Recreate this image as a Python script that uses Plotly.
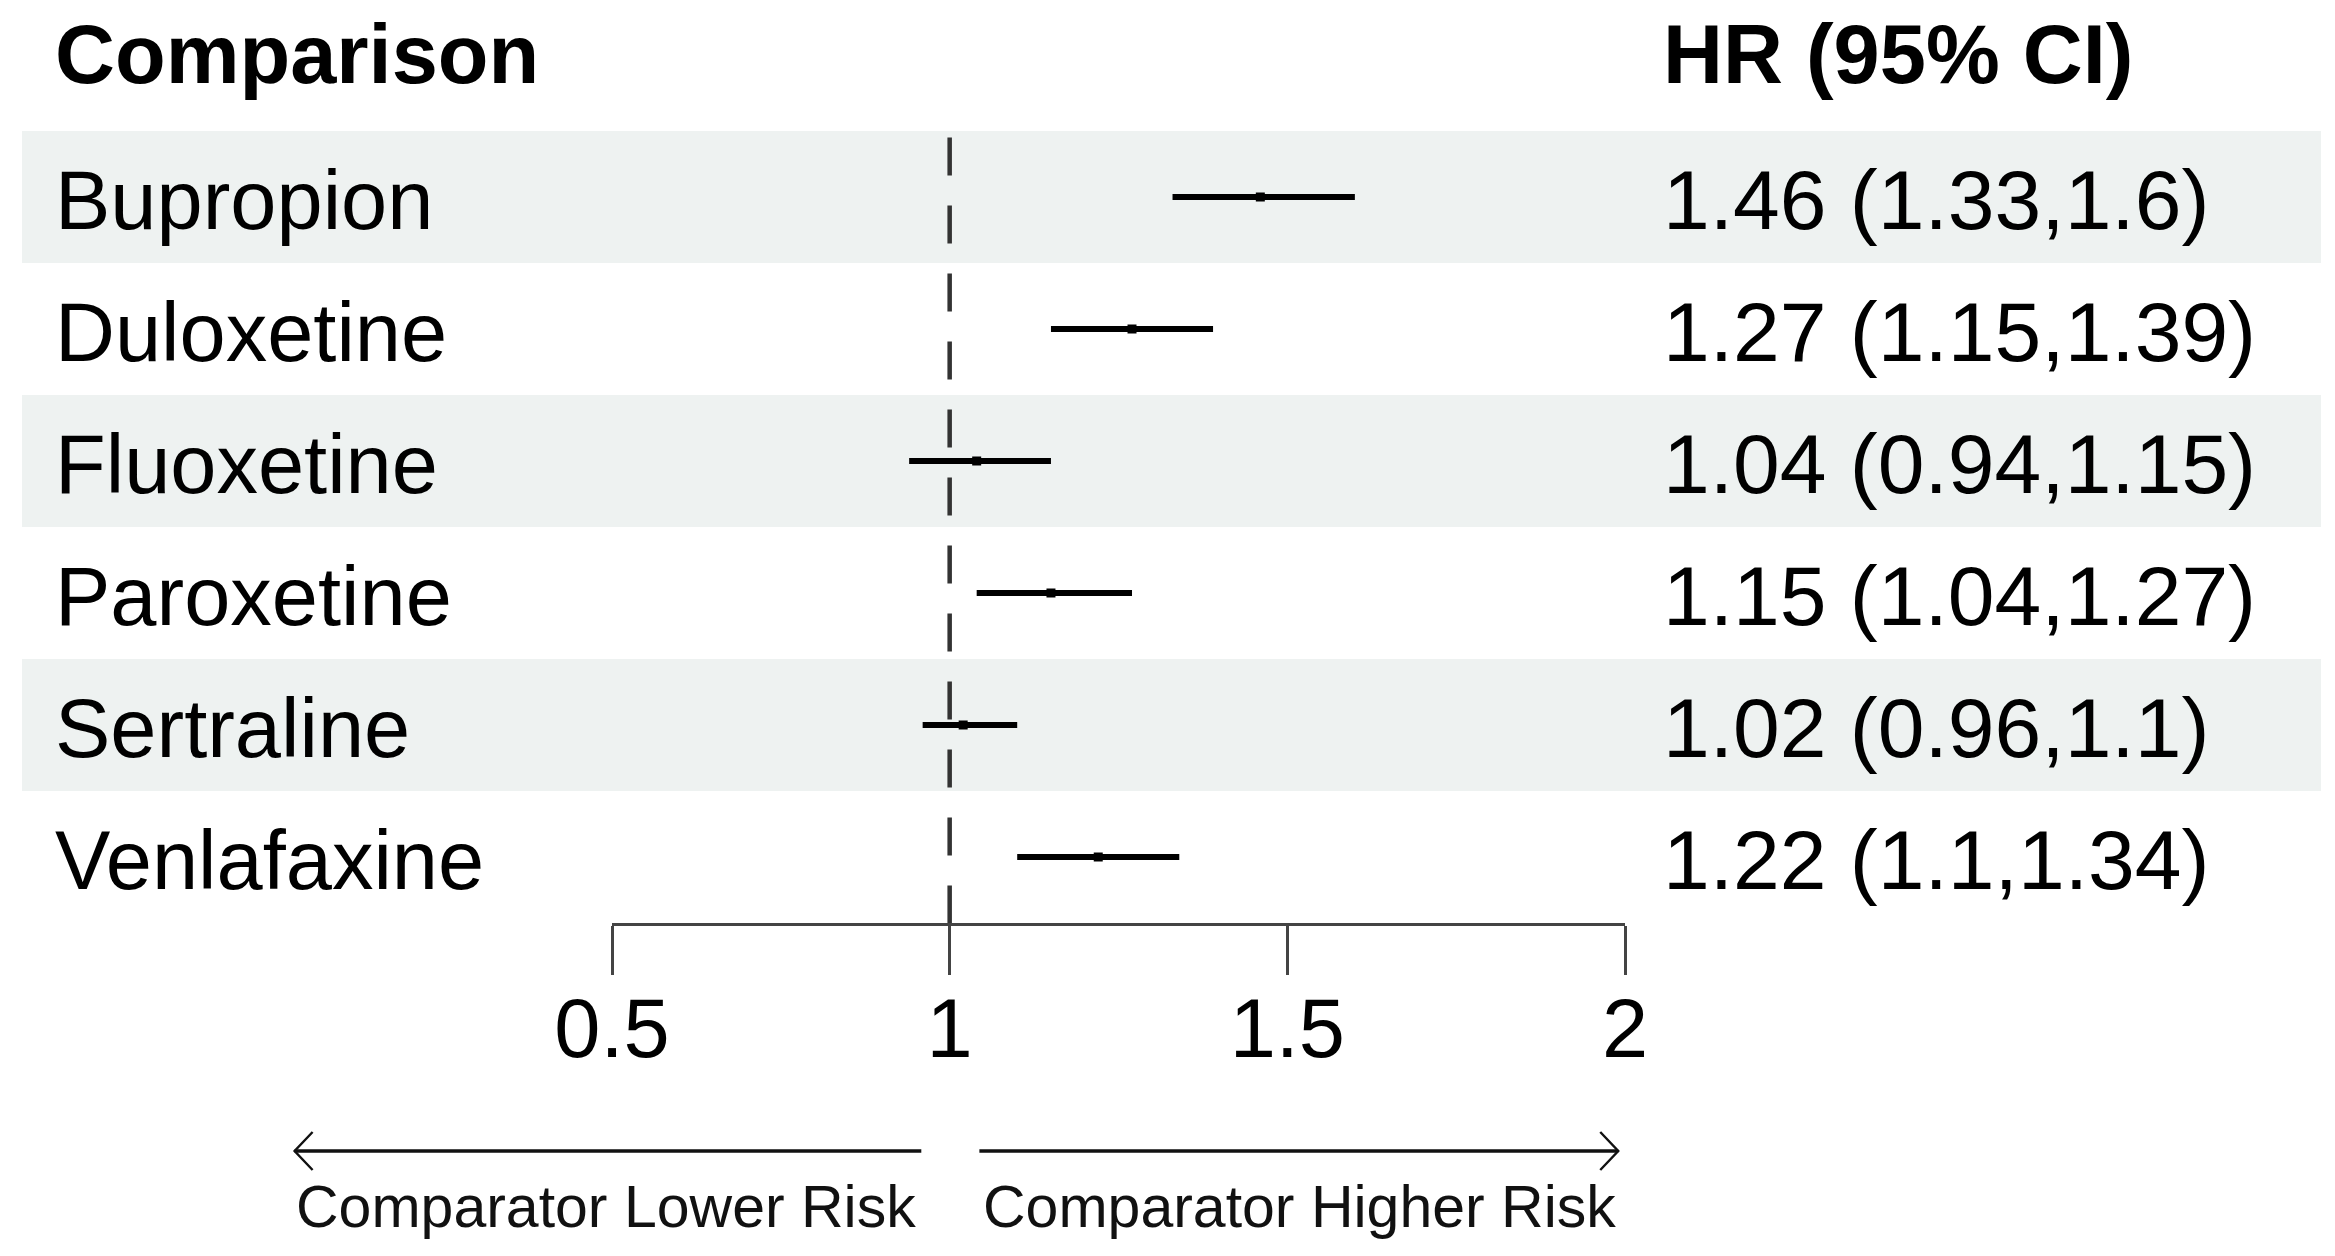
import plotly.graph_objects as go

# ---- data ----
comparisons = ["Bupropion", "Duloxetine", "Fluoxetine", "Paroxetine", "Sertraline", "Venlafaxine"]
hr = [1.46, 1.27, 1.04, 1.15, 1.02, 1.22]
ci_low = [1.33, 1.15, 0.94, 1.04, 0.96, 1.10]
ci_high = [1.60, 1.39, 1.15, 1.27, 1.10, 1.34]
hr_text = ["1.46 (1.33,1.6)", "1.27 (1.15,1.39)", "1.04 (0.94,1.15)",
           "1.15 (1.04,1.27)", "1.02 (0.96,1.1)", "1.22 (1.1,1.34)"]
tick_vals = [0.5, 1, 1.5, 2]
tick_text = ["0.5", "1", "1.5", "2"]
header_left = "Comparison"
header_right = "HR (95% CI)"
label_lower = "Comparator Lower Risk"
label_higher = "Comparator Higher Risk"
null_value = 1

# ---- layout constants (positions given in page pixels of a 2335x1256 view) ----
W, H = 2335, 1256
OFF = 8                       # default body margin of the page
WE, HE = W - 2 * OFF, H - 2 * OFF   # size of the auto-sized figure


def fx(px):
    return (px - OFF) / WE


def fy(py):
    return 1 - (py - OFF) / HE


FONT = "Liberation Sans, Arial, Helvetica, sans-serif"
BAND = "#eef2f1"
x_range = [0.5, 2]
x_dom = [fx(612), fx(1625)]
y_dom = [fy(923), fy(131)]
label_x = fx(53)
hr_x = fx(1661)
header_y = fy(55)
arrow_y = fy(1151)
arrow_label_y = fy(1207)
left_arrow = (0.958, 0.03)   # start, tip (axis units)
right_arrow = (1.044, 1.99)
lower_label_end = 0.953
higher_label_start = 1.047
MAIN_SIZE = 83
HR_SIZE = 84
SMALL_SIZE = 59


def to_paper(v):
    return x_dom[0] + (v - x_range[0]) / (x_range[1] - x_range[0]) * (x_dom[1] - x_dom[0])


n = len(comparisons)
rows = list(range(n))

fig = go.Figure()
fig.add_trace(go.Scatter(
    x=hr, y=rows, mode="markers",
    marker=dict(symbol="square", size=9, color="black"),
    error_x=dict(type="data", symmetric=False,
                 array=[h - m for h, m in zip(ci_high, hr)],
                 arrayminus=[m - l for m, l in zip(hr, ci_low)],
                 thickness=6, width=0, color="black"),
    cliponaxis=False, showlegend=False, hoverinfo="skip",
))

shapes = []
for i in rows:
    if i % 2 == 0:
        shapes.append(dict(type="rect", xref="paper", yref="y",
                           x0=fx(22), x1=fx(2321), y0=i - 0.5, y1=i + 0.5,
                           fillcolor=BAND, line=dict(width=0), layer="below"))
shapes.append(dict(type="line", xref="x", yref="y", x0=null_value, x1=null_value,
                   y0=-0.45, y1=n - 0.5,
                   line=dict(color="#333333", width=4.5, dash="38px,30px")))
for start, tip, sign in [(left_arrow[0], left_arrow[1], 1), (right_arrow[0], right_arrow[1], -1)]:
    shapes.append(dict(type="line", xref="paper", yref="paper", x0=to_paper(start), x1=to_paper(tip),
                       y0=arrow_y, y1=arrow_y, line=dict(color="#111111", width=3.5)))
    shapes.append(dict(type="path", xref="paper", yref="paper", xsizemode="pixel", ysizemode="pixel",
                       xanchor=to_paper(tip), yanchor=arrow_y,
                       path=f"M {sign*18},19 L 0,0 L {sign*18},-19",
                       line=dict(color="#111111", width=2.4)))

annotations = []
for i, (c, t) in enumerate(zip(comparisons, hr_text)):
    annotations.append(dict(x=label_x, y=i, xref="paper", yref="y", text=c, showarrow=False,
                            xanchor="left", yanchor="middle", yshift=-3,
                            font=dict(size=MAIN_SIZE, color="black", family=FONT)))
    annotations.append(dict(x=hr_x, y=i, xref="paper", yref="y", text=t, showarrow=False,
                            xanchor="left", yanchor="middle", yshift=-3,
                            font=dict(size=HR_SIZE, color="black", family=FONT)))
annotations.append(dict(x=label_x, y=header_y, xref="paper", yref="paper", text=f"<b>{header_left}</b>",
                        showarrow=False, xanchor="left", yanchor="middle",
                        font=dict(size=MAIN_SIZE, color="black", family=FONT)))
annotations.append(dict(x=hr_x, y=header_y, xref="paper", yref="paper", text=f"<b>{header_right}</b>",
                        showarrow=False, xanchor="left", yanchor="middle",
                        font=dict(size=MAIN_SIZE, color="black", family=FONT)))
annotations.append(dict(x=to_paper(lower_label_end), y=arrow_label_y, xref="paper", yref="paper",
                        text=label_lower, showarrow=False, xanchor="right", yanchor="middle",
                        font=dict(size=SMALL_SIZE, color="#111111", family=FONT)))
annotations.append(dict(x=to_paper(higher_label_start), y=arrow_label_y, xref="paper", yref="paper",
                        text=label_higher, showarrow=False, xanchor="left", yanchor="middle",
                        font=dict(size=SMALL_SIZE, color="#111111", family=FONT)))

fig.update_layout(
    autosize=True,
    margin=dict(l=0, r=0, t=0, b=0, pad=0, autoexpand=False),
    paper_bgcolor="white", plot_bgcolor="rgba(0,0,0,0)",
    font=dict(family=FONT, color="black"),
    shapes=shapes, annotations=annotations,
    xaxis=dict(domain=x_dom, range=x_range, tickmode="array", tickvals=tick_vals, ticktext=tick_text,
               showline=True, linecolor="#444444", linewidth=3, ticks="outside", ticklen=49,
               tickwidth=3, tickcolor="#444444", showgrid=False, zeroline=False,
               tickfont=dict(size=MAIN_SIZE, color="black", family=FONT), ticklabelstandoff=-18,
               anchor="y", automargin=False, fixedrange=True),
    yaxis=dict(domain=y_dom, range=[n - 0.5, -0.5], visible=False, automargin=False, fixedrange=True),
)

fig.write_html("out.html")
